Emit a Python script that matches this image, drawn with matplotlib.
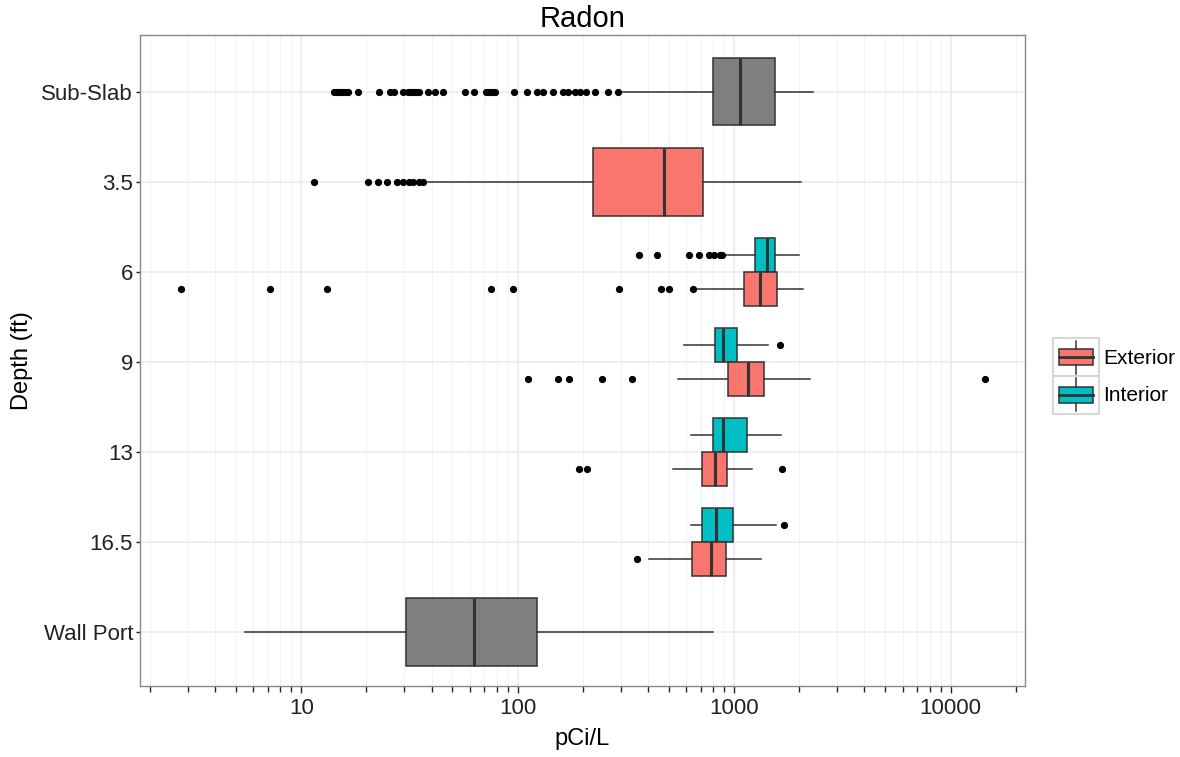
import matplotlib
matplotlib.use("Agg")
import matplotlib.pyplot as plt
from matplotlib.legend_handler import HandlerBase
from matplotlib.patches import Rectangle, Patch
from matplotlib.lines import Line2D
from matplotlib.ticker import LogLocator, FixedLocator, NullFormatter

plt.rcParams['font.family'] = ['Liberation Sans', 'DejaVu Sans']

# ---------------- data ----------------
categories = ["Sub-Slab", "3.5", "6", "9", "13", "16.5", "Wall Port"]
x_ticks = [10, 100, 1000, 10000]
x_tick_labels = ["10", "100", "1000", "10000"]

box_depth = ["Sub-Slab", "3.5", "6", "6", "9", "9", "13", "13", "16.5", "16.5", "Wall Port"]
box_type = ["All", "Exterior", "Interior", "Exterior", "Interior", "Exterior",
            "Interior", "Exterior", "Interior", "Exterior", "All"]
q1 = [800, 223, 1250, 1112, 817, 942, 803, 711, 709, 638, 30.5]
median = [1067, 475, 1420, 1318, 887, 1164, 887, 817, 826, 780, 63]
q3 = [1545, 719, 1545, 1580, 1028, 1376, 1151, 925, 993, 916, 123]
whisker_low = [300, 38.6, 900, 665, 589, 550, 632, 521, 632, 405, 5.5]
whisker_high = [2317, 2037, 1995, 2084, 1431, 2244, 1648, 1216, 1563, 1334, 800]
outliers = [
    [14.2, 14.6, 15.0, 15.5, 16.0, 16.5, 18.3, 22.9, 25.8, 26.9, 29.6, 31.2, 32.0,
     33.0, 34.0, 35.0, 38.6, 41.6, 45.3, 57.2, 63.0, 71.6, 74.0, 76.0, 78.7, 96.4,
     111, 123, 131, 146, 162, 171, 184.5, 195, 207, 228, 262, 291],
    [11.4, 20.4, 22.7, 24.9, 27.7, 29.5, 31.5, 33.0, 35.0, 36.5],
    [364, 441, 620, 689, 767, 809, 861, 880],
    [2.79, 7.17, 13.1, 75.5, 95.3, 293, 460, 501, 647],
    [1630],
    [112, 154, 172, 245, 339, 14420],
    [],
    [192, 210, 1660],
    [1704],
    [355],
    [],
]

legend_labels = ["Exterior", "Interior"]
type_colors = {"Exterior": "#F8766D", "Interior": "#00BFC4", "All": "#7F7F7F"}

# ---------------- figure ----------------
fig = plt.figure(figsize=(11.8, 7.57), dpi=100)
ax = fig.add_axes([140 / 1180, 1 - 686 / 757, (1025 - 140) / 1180, (686 - 35) / 757])

ncat = len(categories)
cat_pos = {c: ncat - 1 - i for i, c in enumerate(categories)}
dodged = {c for c, t in zip(box_depth, box_type) if t == "Interior"}

edge = "#333333"
for i in range(len(box_depth)):
    c = box_depth[i]
    t = box_type[i]
    if c in dodged:
        w = 0.375
        pos = cat_pos[c] + (0.1875 if t == "Interior" else -0.1875)
    else:
        w = 0.75
        pos = cat_pos[c]
    stats = [dict(med=median[i], q1=q1[i], q3=q3[i], whislo=whisker_low[i],
                  whishi=whisker_high[i], fliers=outliers[i])]
    ax.bxp(stats, positions=[pos], widths=[w], vert=False, showcaps=False,
           patch_artist=True, manage_ticks=False,
           boxprops=dict(facecolor=type_colors[t], edgecolor=edge, linewidth=1.1),
           medianprops=dict(color=edge, linewidth=2.2, solid_capstyle='butt'),
           whiskerprops=dict(color=edge, linewidth=1.1),
           flierprops=dict(marker='o', markerfacecolor='black', markeredgecolor='black',
                           markersize=4.2, linestyle='none'))

ax.set_xscale('log')
ax.set_xlim(1.80, 22080)
ax.set_ylim(-0.6, ncat - 1 + 0.63)

ax.xaxis.set_major_locator(FixedLocator(x_ticks))
ax.set_xticklabels(x_tick_labels)
ax.xaxis.set_minor_locator(LogLocator(base=10, subs=range(2, 10)))
ax.xaxis.set_minor_formatter(NullFormatter())

ax.set_yticks([cat_pos[c] for c in categories])
ax.set_yticklabels(categories)

ax.set_axisbelow(True)
ax.grid(which='major', axis='both', color='#EBEBEB', linewidth=1.2)
ax.grid(which='minor', axis='x', color='#F2F2F2', linewidth=0.7)

for s in ax.spines.values():
    s.set_color('#888888')
    s.set_linewidth(1.0)

ax.tick_params(axis='both', which='major', labelsize=16, colors='#222222', length=3,
               width=1.0, pad=2)
ax.tick_params(axis='x', which='minor', length=4, width=1.0, colors='#222222')
ax.tick_params(axis='x', which='major', length=5, pad=4)

ax.set_title("Radon", fontsize=21, pad=6)
ax.set_xlabel("pCi/L", fontsize=17, labelpad=6)
ax.set_ylabel("Depth (ft)", fontsize=17, labelpad=6)


class BoxKeyHandler(HandlerBase):
    def create_artists(self, legend, orig_handle, xdescent, ydescent, width, height,
                       fontsize, trans):
        x0, y0 = -xdescent, -ydescent
        fc = orig_handle.get_facecolor()
        key = Rectangle((x0, y0), width, height, facecolor='white', edgecolor='#D0D0D0',
                        linewidth=1.2, transform=trans)
        bx = Rectangle((x0 + width * 0.12, y0 + height * 0.28), width * 0.76, height * 0.44,
                       facecolor=fc, edgecolor=edge, linewidth=1.1, transform=trans)
        xm = x0 + width / 2
        wl = Line2D([xm, xm], [y0 + height * 0.06, y0 + height * 0.28], color=edge,
                    linewidth=1.1, transform=trans)
        wh = Line2D([xm, xm], [y0 + height * 0.72, y0 + height * 0.94], color=edge,
                    linewidth=1.1, transform=trans)
        md = Line2D([x0 + width * 0.12, x0 + width * 0.88], [y0 + height * 0.5] * 2,
                    color=edge, linewidth=2.0, transform=trans)
        return [key, bx, wl, wh, md]


handles = [Patch(facecolor=type_colors[l]) for l in legend_labels]
fig.legend(handles, legend_labels, loc='center left',
           bbox_to_anchor=(1053 / 1180, 1 - 376 / 757), frameon=False,
           handler_map={Patch: BoxKeyHandler()}, fontsize=15,
           handlelength=2.2, handleheight=2.4, labelspacing=0.0,
           handletextpad=0.2, borderpad=0.0, borderaxespad=0.0)

fig.savefig("out.png", dpi=100)
